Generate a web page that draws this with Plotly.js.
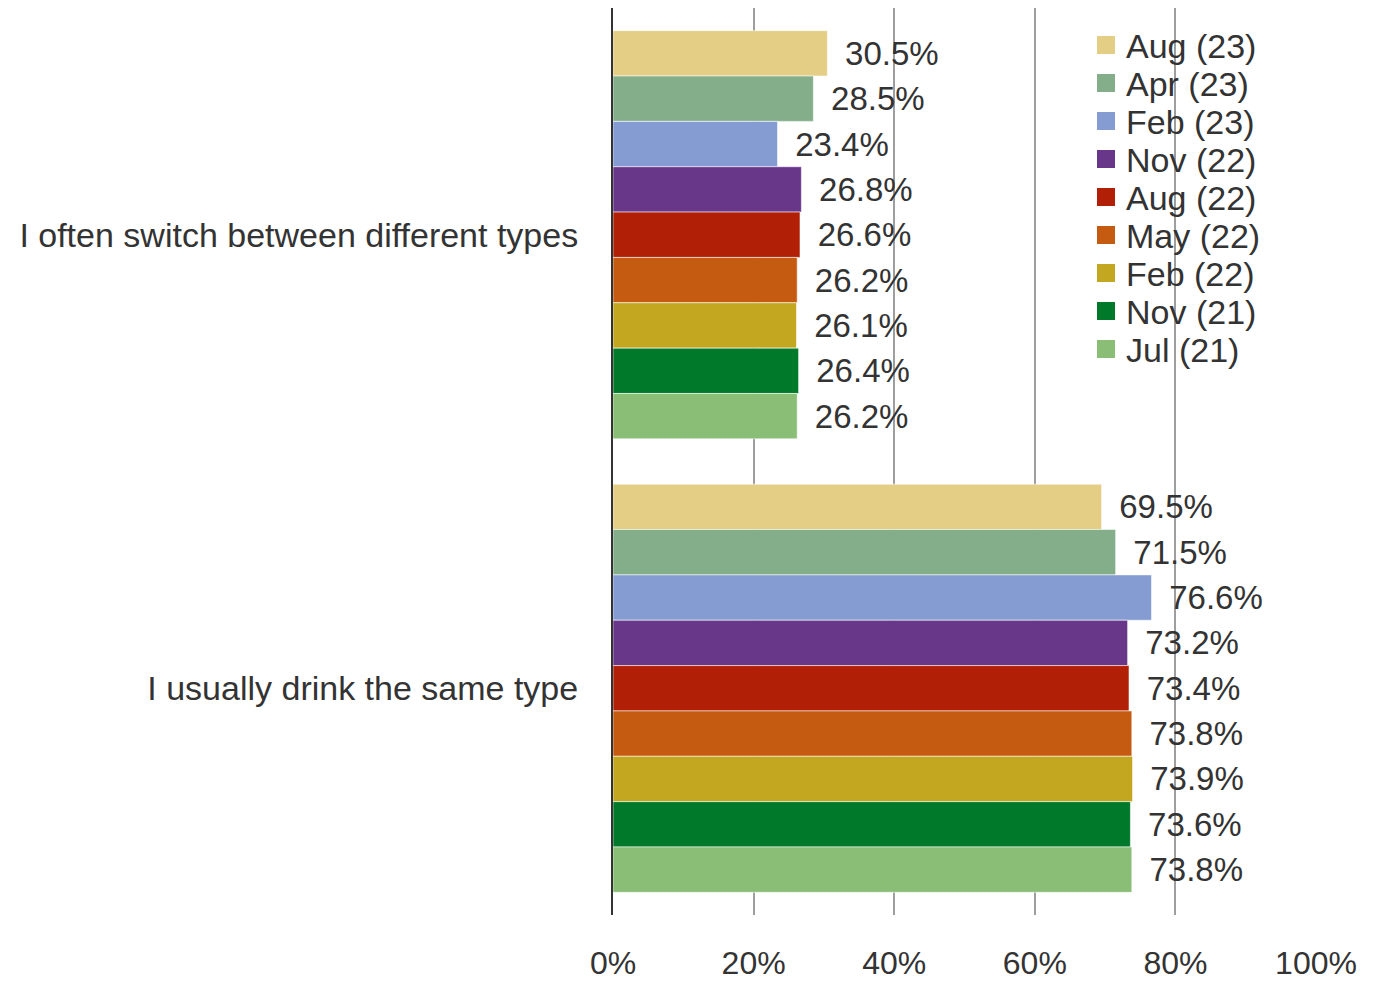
<!DOCTYPE html>
<html>
<head>
<meta charset="utf-8">
<script src="https://cdn.plot.ly/plotly-3.0.1.min.js"></script>
<style>
  html, body { margin: 0; padding: 0; background: #fff; }
  #chart { width: 1377px; height: 981px; }
</style>
</head>
<body>
<div id="chart"></div>
<script>
// Survey statements (top to bottom)
const statements = ["I often switch between different types", "I usually drink the same type"];

// Survey waves, newest first
const waves = ["Aug (23)", "Apr (23)", "Feb (23)", "Nov (22)", "Aug (22)", "May (22)", "Feb (22)", "Nov (21)", "Jul (21)"];

// Share of respondents (%) per wave: [switch types, same type]
const aug23 = [30.5, 69.5];
const apr23 = [28.5, 71.5];
const feb23 = [23.4, 76.6];
const nov22 = [26.8, 73.2];
const aug22 = [26.6, 73.4];
const may22 = [26.2, 73.8];
const feb22 = [26.1, 73.9];
const nov21 = [26.4, 73.6];
const jul21 = [26.2, 73.8];

const waveValues = [aug23, apr23, feb23, nov22, aug22, may22, feb22, nov21, jul21];
const waveColors = ["#E4CE86", "#84AE8A", "#859CD3", "#683789", "#B21F07", "#C55A11", "#C4A720", "#007A2A", "#8ABD76"];

const xTickVals = [0, 20, 40, 60, 80, 100];

const FONT = '"Liberation Sans", Arial, sans-serif';
const INK = '#333333';

// plot box in pixels
const W = 1377, H = 981;
const M = { l: 613, r: 61, t: 8, b: 66 };
const plotW = W - M.l - M.r, plotH = H - M.t - M.b;
const px2x = px => (px - M.l) / plotW;
const py2y = py => (H - M.b - py) / plotH;

const traces = waves.map((w, i) => ({
  type: 'bar',
  orientation: 'h',
  name: w,
  y: statements,
  x: waveValues[i],
  marker: { color: waveColors[i], line: { color: 'rgba(255,255,255,0.55)', width: 1 } },
  texttemplate: '\u00a0\u2006%{x:.1f}%',
  textposition: 'outside',
  cliponaxis: false,
  textfont: { family: FONT, size: 33, color: INK },
  showlegend: false,
  hoverinfo: 'name+x'
}));

// legend: square swatch + wave name, stacked in the upper right
const legendTop = 45, legendStep = 38, swatch = 18, swatchLeft = 1097, textLeft = 1124;
const shapes = waves.map((w, i) => {
  const cy = legendTop + i * legendStep;
  return {
    type: 'rect', xref: 'paper', yref: 'paper',
    x0: px2x(swatchLeft), x1: px2x(swatchLeft + swatch),
    y0: py2y(cy + swatch / 2), y1: py2y(cy - swatch / 2),
    fillcolor: waveColors[i], line: { width: 0 }, layer: 'above'
  };
});
const annotations = waves.map((w, i) => ({
  xref: 'paper', yref: 'paper',
  x: px2x(textLeft), y: py2y(legendTop + i * legendStep + 1),
  xanchor: 'left', yanchor: 'middle',
  text: w, showarrow: false,
  font: { family: FONT, size: 34, color: INK }
}));

const layout = {
  width: W,
  height: H,
  margin: M,
  paper_bgcolor: '#ffffff',
  plot_bgcolor: '#ffffff',
  font: { family: FONT, color: INK },
  barmode: 'group',
  bargap: 0.1,
  bargroupgap: 0,
  showlegend: false,
  shapes: shapes,
  annotations: annotations,
  xaxis: {
    range: [0, 100],
    tickvals: xTickVals,
    ticktext: xTickVals.map(v => v + '%'),
    showgrid: true,
    gridcolor: '#9e9e9e',
    gridwidth: 2,
    zeroline: false,
    showline: false,
    ticks: '',
    ticklabelstandoff: 26,
    tickfont: { family: FONT, size: 32, color: INK },
    fixedrange: true
  },
  yaxis: {
    autorange: 'reversed',
    showline: true,
    linecolor: '#333333',
    linewidth: 2,
    showgrid: false,
    ticks: '',
    ticklabelstandoff: 26,
    tickfont: { family: FONT, size: 34, color: INK },
    fixedrange: true
  }
};

Plotly.newPlot('chart', traces, layout, { displayModeBar: false, staticPlot: true });
</script>
</body>
</html>
